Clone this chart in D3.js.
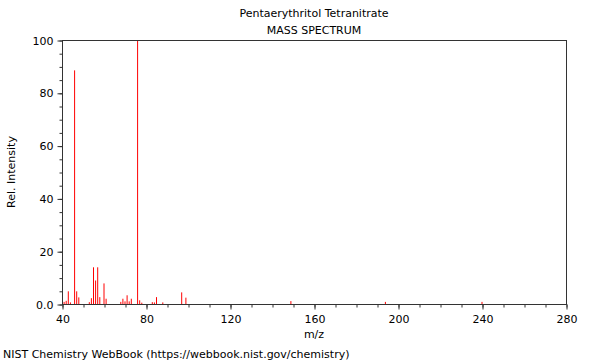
<!DOCTYPE html>
<html>
<head>
<meta charset="utf-8">
<script src="https://cdn.jsdelivr.net/npm/d3@7/dist/d3.min.js"></script>
<style>
  html, body { margin: 0; padding: 0; background: #fff; }
  svg { display: block; font-family: "DejaVu Sans", sans-serif; }
</style>
</head>
<body>
<svg id="chart" width="600" height="360"></svg>
<script>
// ---- data ----
const titleLines = ["Pentaerythritol Tetranitrate", "MASS SPECTRUM"];
const mzValues = [41, 42, 43, 44, 46, 47, 48, 53, 54, 55, 56, 57, 58, 60, 61,
                  68, 69, 70, 71, 72, 73, 76, 77, 78, 83, 84, 85, 88, 97, 99,
                  149, 194, 240];
const intensities = [0.8, 1.2, 4.8, 0.6, 88.5, 4.8, 2.5, 0.7, 2.2, 13.9, 8.9, 13.9, 2.6, 7.8, 2.0,
                     0.8, 2.0, 1.0, 3.3, 1.0, 2.0, 100, 1.4, 0.5, 0.7, 0.6, 2.6, 0.6, 4.4, 2.4,
                     1.1, 0.8, 0.8];
const xMajorTicks = [40, 80, 120, 160, 200, 240, 280];
const yMajorTicks = [0, 20, 40, 60, 80, 100];
const yTickLabels = ["0.0", "20", "40", "60", "80", "100"];
const xLabel = "m/z";
const yLabel = "Rel. Intensity";
const footer = "NIST Chemistry WebBook (https://webbook.nist.gov/chemistry)";

(function () {
  const svg = d3.select("#chart");
  const pL = 62, pR = 566, pT = 40, pB = 304;
  const axisColor = "#333";

  const x = d3.scaleLinear().domain([40, 280]).range([pL, pR]);
  const y = d3.scaleLinear().domain([0, 100]).range([pB, pT]);

  // peaks
  svg.append("g").selectAll("line")
    .data(mzValues.map((m, i) => ({ m, v: intensities[i] })))
    .join("line")
    .attr("x1", d => x(d.m)).attr("x2", d => x(d.m))
    .attr("y1", y(0)).attr("y2", d => y(d.v))
    .attr("stroke", "#ff0000").attr("stroke-width", 1);

  // frame
  svg.append("rect")
    .attr("x", pL + 0.5).attr("y", pT + 0.5)
    .attr("width", pR - pL).attr("height", pB - pT)
    .attr("fill", "none").attr("stroke", axisColor).attr("stroke-width", 1);

  // x axis minor
  svg.append("g").attr("transform", `translate(0.5,${pB + 0.5})`)
    .call(d3.axisBottom(x).tickValues(d3.range(40, 281, 10)).tickSize(3).tickFormat(""))
    .call(g => g.select(".domain").remove())
    .call(g => g.selectAll("line").attr("stroke", axisColor));
  // x axis major
  svg.append("g").attr("transform", `translate(0.5,${pB + 0.5})`)
    .call(d3.axisBottom(x).tickValues(xMajorTicks).tickSize(5).tickPadding(6).tickFormat(d3.format("d")))
    .call(g => g.select(".domain").remove())
    .call(g => g.selectAll("line").attr("stroke", axisColor))
    .call(g => g.selectAll("text").attr("fill", "#000").attr("font-size", 11).attr("font-family", "DejaVu Sans"));

  // y axis minor
  svg.append("g").attr("transform", `translate(${pL + 0.5},0.5)`)
    .call(d3.axisLeft(y).tickValues(d3.range(0, 101, 5)).tickSize(3).tickFormat(""))
    .call(g => g.select(".domain").remove())
    .call(g => g.selectAll("line").attr("stroke", axisColor));
  // y axis major
  svg.append("g").attr("transform", `translate(${pL + 0.5},0.5)`)
    .call(d3.axisLeft(y).tickValues(yMajorTicks).tickSize(5).tickPadding(4)
      .tickFormat((d, i) => yTickLabels[i]))
    .call(g => g.select(".domain").remove())
    .call(g => g.selectAll("line").attr("stroke", axisColor))
    .call(g => g.selectAll("text").attr("fill", "#000").attr("font-size", 11).attr("font-family", "DejaVu Sans"));

  // titles
  svg.append("text").attr("x", (pL + pR) / 2).attr("y", 17)
    .attr("text-anchor", "middle").attr("font-size", 11).text(titleLines[0]);
  svg.append("text").attr("x", (pL + pR) / 2).attr("y", 34)
    .attr("text-anchor", "middle").attr("font-size", 11).text(titleLines[1]);

  // axis labels
  svg.append("text").attr("x", (pL + pR) / 2).attr("y", 338)
    .attr("text-anchor", "middle").attr("font-size", 11).text(xLabel);
  svg.append("text").attr("transform", `translate(15,${(pT + pB) / 2}) rotate(-90)`)
    .attr("text-anchor", "middle").attr("font-size", 11).text(yLabel);

  // footer
  svg.append("text").attr("x", 3).attr("y", 358)
    .attr("font-size", 11).text(footer);
})();
</script>
</body>
</html>
